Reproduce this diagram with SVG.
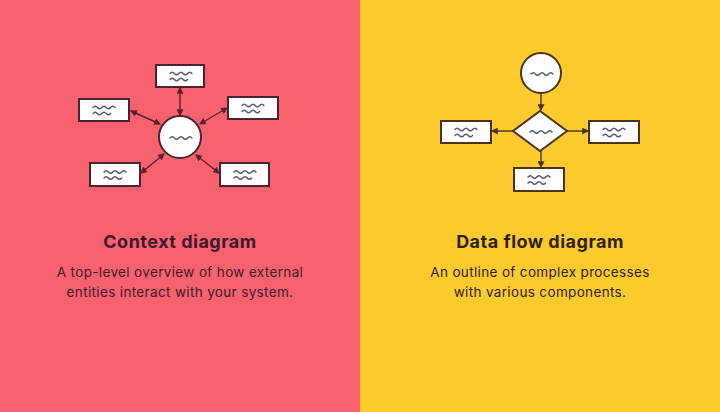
<svg xmlns="http://www.w3.org/2000/svg" xmlns:xlink="http://www.w3.org/1999/xlink" width="720" height="412" viewBox="0 0 720 412">
<style>
.box{fill:#fff;stroke:#4a2232;stroke-width:2}
.boxy{fill:#fff;stroke:#4a3418;stroke-width:2}
.wave{fill:none;stroke:#55557a;stroke-width:1.4;stroke-linecap:round}
.conL{stroke:#5a2030;stroke-width:1.4;fill:none}
.conR{stroke:#4a3418;stroke-width:1.4;fill:none}
.h{font-family:Inter,"Noto Sans",sans-serif;font-weight:700;font-size:18px;letter-spacing:0.5px;text-anchor:middle}
.p{font-family:Inter,"Noto Sans",sans-serif;font-size:13.5px;letter-spacing:0.35px;text-anchor:middle}
</style>
<defs>
<path id="w1" d="M-11,0 q2.2,-2.6 4.4,0 t4.4,0 t4.4,0 t4.4,0 t4.4,0"/>
<path id="w2" d="M-11,0 q2.2,-2.6 4.4,0 t4.4,0 t4.4,0 t4.4,0"/>
<g id="bw" class="wave"><use xlink:href="#w1" y="-2.5"/><use xlink:href="#w2" y="3.5"/></g>
<marker id="aL" viewBox="0 0 6 6" refX="5" refY="3" markerWidth="5" markerHeight="5" orient="auto-start-reverse"><path d="M0,0L6,3L0,6z" fill="#5a2030"/></marker>
<marker id="aR" viewBox="0 0 6 6" refX="5" refY="3" markerWidth="5" markerHeight="5" orient="auto"><path d="M0,0L6,3L0,6z" fill="#4a3418"/></marker>
</defs>
<rect x="0" y="0" width="360" height="412" fill="#f8616e"/>
<rect x="360" y="0" width="360" height="412" fill="#fecb2f"/>

<g id="connectors">
<line class="conL" x1="180" y1="115" x2="180" y2="88" marker-start="url(#aL)" marker-end="url(#aL)"/>
<line class="conL" x1="160" y1="124" x2="131" y2="111" marker-start="url(#aL)" marker-end="url(#aL)"/>
<line class="conL" x1="200" y1="124" x2="227" y2="108" marker-start="url(#aL)" marker-end="url(#aL)"/>
<line class="conL" x1="164" y1="154" x2="141" y2="173" marker-start="url(#aL)" marker-end="url(#aL)"/>
<line class="conL" x1="196" y1="155" x2="219" y2="173" marker-start="url(#aL)" marker-end="url(#aL)"/>
<line class="conR" x1="541" y1="93" x2="541" y2="110" marker-end="url(#aR)"/>
<line class="conR" x1="513" y1="131" x2="492" y2="131" marker-end="url(#aR)"/>
<line class="conR" x1="567" y1="131" x2="588" y2="131" marker-end="url(#aR)"/>
<line class="conR" x1="541" y1="151" x2="541" y2="167" marker-end="url(#aR)"/>
</g>

<g id="ctx-center"><circle cx="180" cy="137" r="21" class="box"/><use xlink:href="#w1" x="181" y="138" class="wave"/></g>
<g id="ctx-top"><rect x="156" y="65" width="48" height="22" class="box"/><use xlink:href="#bw" x="181" y="76"/></g>
<g id="ctx-left"><rect x="79" y="99" width="50" height="22" class="box"/><use xlink:href="#bw" x="104" y="110"/></g>
<g id="ctx-right"><rect x="228" y="97" width="50" height="22" class="box"/><use xlink:href="#bw" x="253" y="108"/></g>
<g id="ctx-bl"><rect x="90" y="163" width="50" height="23" class="box"/><use xlink:href="#bw" x="115" y="174.5"/></g>
<g id="ctx-br"><rect x="220" y="163" width="49" height="23" class="box"/><use xlink:href="#bw" x="245" y="174.5"/></g>

<g id="dfd-start"><circle cx="541" cy="73" r="20" class="boxy"/><use xlink:href="#w1" x="542" y="74" class="wave"/></g>
<g id="dfd-decision"><path d="M540,111L567,131L540,151L513,131z" class="boxy"/><use xlink:href="#w1" x="541" y="132" class="wave"/></g>
<g id="dfd-left"><rect x="441" y="121" width="50" height="22" class="boxy"/><use xlink:href="#bw" x="466" y="132"/></g>
<g id="dfd-right"><rect x="589" y="121" width="50" height="22" class="boxy"/><use xlink:href="#bw" x="614" y="132"/></g>
<g id="dfd-bottom"><rect x="514" y="168" width="50" height="23" class="boxy"/><use xlink:href="#bw" x="539" y="179.5"/></g>

<g id="ctx-text" fill="#3a1a2c">
<text class="h" x="180" y="248">Context diagram</text>
<text class="p" x="180" y="277">A top-level overview of how external</text>
<text class="p" x="180" y="297">entities interact with your system.</text>
</g>
<g id="dfd-text" fill="#2c2210">
<text class="h" x="540" y="248">Data flow diagram</text>
<text class="p" x="540" y="277">An outline of complex processes</text>
<text class="p" x="540" y="297">with various components.</text>
</g>
</svg>
